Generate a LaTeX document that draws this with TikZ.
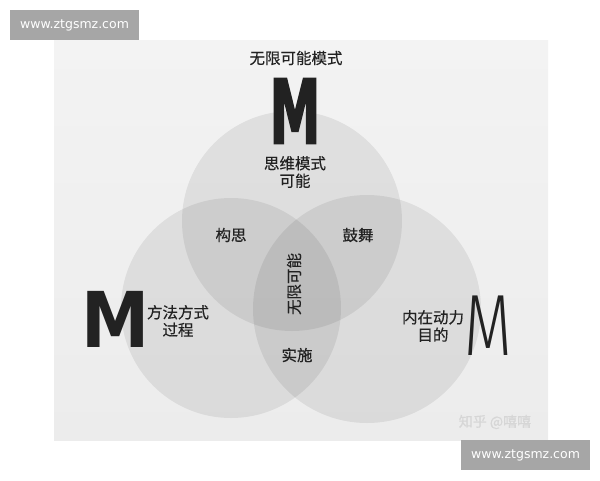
\documentclass[tikz,border=0pt]{standalone}
\usepackage{fontspec}
\setmainfont{Noto Sans CJK SC}[FakeBold=0.4]
\newfontfamily\webfont{DejaVu Sans}
\newfontfamily\boldmfont{DejaVu Sans Bold}
\newfontfamily\heavymfont{DejaVu Sans Bold}[FakeBold=3]
\newfontfamily\thinmfont{Fira Sans Light}
\usepackage{tikz}
\definecolor{photobg}{RGB}{236,236,236}
\definecolor{phototop}{RGB}{243,243,243}
\definecolor{inkgray}{RGB}{34,34,34}
\definecolor{markgray}{RGB}{166,166,166}
\definecolor{zhgray}{RGB}{214,214,214}
\tikzstyle{ring} = [fill=black, fill opacity=0.075]
\tikzstyle{areatext} = [text=inkgray, font=\fontsize{15.5}{17.5}\selectfont, inner sep=0pt, align=center]
\tikzstyle{bigm} = [text=inkgray, inner sep=0pt, anchor=base, text depth=0pt]
\tikzstyle{webmark} = [rectangle, fill=markgray, text=white, minimum width=129pt, minimum height=30pt, inner sep=0pt, font=\webfont\fontsize{12.5}{12.5}\selectfont]

\begin{document}
\begin{tikzpicture}[x=1pt, y=-1pt]
\useasboundingbox (0,0) rectangle (600,480);

\shade[top color=phototop, bottom color=photobg] (54,40) rectangle (548,440);

% three circles
\fill[ring] (292,221) circle (110pt);
\fill[ring] (231,308) circle (110pt);
\fill[ring] (367,309) circle (114pt);

\node (title) [areatext] at (296,58) {无限可能模式};
\node (mtop) [bigm, text height=64pt, font=\heavymfont\fontsize{88}{88}\selectfont] at (295,143) {\scalebox{0.58}[1]{M}};
\node (mind) [areatext] at (295,172) {思维模式\\可能};
\node (idea) [areatext] at (231,235) {构思};
\node (drive) [areatext] at (358,235) {鼓舞};
\node (core) [areatext, rotate=90] at (294,284) {无限可能};
\node (act) [areatext] at (297,355) {实施};

\node (mleft) [bigm, text height=56pt, font=\boldmfont\fontsize{77}{77}\selectfont] at (116,347) {\scalebox{0.89}[1]{M}};
\node (method) [areatext] at (178,321) {方法方式\\过程};
\node (inner) [areatext] at (433,326) {内在动力\\目的};
\node (mright) [bigm, text height=60pt, font=\thinmfont\fontsize{87}{87}\selectfont] at (488,355) {\scalebox{0.71}[1]{M}};

\node (zhihu) [text=zhgray, font=\fontsize{14}{14}\selectfont, inner sep=0pt] at (495,422) {知乎 @嘻嘻};

\node (topmark) [webmark] at (74.5,25) {www.ztgsmz.com};
\node (botmark) [webmark] at (525.5,455) {www.ztgsmz.com};

\end{tikzpicture}
\end{document}
